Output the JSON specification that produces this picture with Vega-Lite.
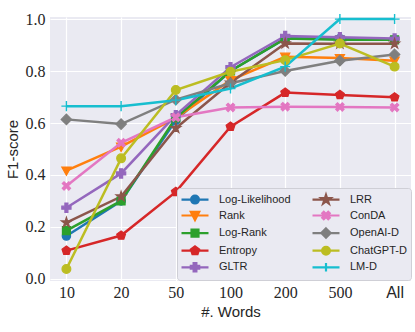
{
  "$schema": "https://vega.github.io/schema/vega-lite/v6.json",
  "width": 361,
  "height": 264,
  "autosize": "none",
  "padding": {"left": 50, "top": 17, "right": 4, "bottom": 51},
  "background": "white",
  "data": {"values": [
    {"m": "Log-Likelihood", "w": "10", "f": 0.165}, {"m": "Log-Likelihood", "w": "20", "f": 0.30}, {"m": "Log-Likelihood", "w": "50", "f": 0.61}, {"m": "Log-Likelihood", "w": "100", "f": 0.80}, {"m": "Log-Likelihood", "w": "200", "f": 0.925}, {"m": "Log-Likelihood", "w": "500", "f": 0.925}, {"m": "Log-Likelihood", "w": "All", "f": 0.92},
    {"m": "Rank", "w": "10", "f": 0.417}, {"m": "Rank", "w": "20", "f": 0.509}, {"m": "Rank", "w": "50", "f": 0.62}, {"m": "Rank", "w": "100", "f": 0.765}, {"m": "Rank", "w": "200", "f": 0.855}, {"m": "Rank", "w": "500", "f": 0.85}, {"m": "Rank", "w": "All", "f": 0.84},
    {"m": "Log-Rank", "w": "10", "f": 0.186}, {"m": "Log-Rank", "w": "20", "f": 0.30}, {"m": "Log-Rank", "w": "50", "f": 0.62}, {"m": "Log-Rank", "w": "100", "f": 0.80}, {"m": "Log-Rank", "w": "200", "f": 0.925}, {"m": "Log-Rank", "w": "500", "f": 0.92}, {"m": "Log-Rank", "w": "All", "f": 0.92},
    {"m": "Entropy", "w": "10", "f": 0.109}, {"m": "Entropy", "w": "20", "f": 0.167}, {"m": "Entropy", "w": "50", "f": 0.335}, {"m": "Entropy", "w": "100", "f": 0.586}, {"m": "Entropy", "w": "200", "f": 0.717}, {"m": "Entropy", "w": "500", "f": 0.708}, {"m": "Entropy", "w": "All", "f": 0.699},
    {"m": "GLTR", "w": "10", "f": 0.274}, {"m": "GLTR", "w": "20", "f": 0.406}, {"m": "GLTR", "w": "50", "f": 0.63}, {"m": "GLTR", "w": "100", "f": 0.815}, {"m": "GLTR", "w": "200", "f": 0.935}, {"m": "GLTR", "w": "500", "f": 0.93}, {"m": "GLTR", "w": "All", "f": 0.925},
    {"m": "LRR", "w": "10", "f": 0.217}, {"m": "LRR", "w": "20", "f": 0.317}, {"m": "LRR", "w": "50", "f": 0.58}, {"m": "LRR", "w": "100", "f": 0.755}, {"m": "LRR", "w": "200", "f": 0.906}, {"m": "LRR", "w": "500", "f": 0.905}, {"m": "LRR", "w": "All", "f": 0.905},
    {"m": "ConDA", "w": "10", "f": 0.358}, {"m": "ConDA", "w": "20", "f": 0.524}, {"m": "ConDA", "w": "50", "f": 0.622}, {"m": "ConDA", "w": "100", "f": 0.66}, {"m": "ConDA", "w": "200", "f": 0.663}, {"m": "ConDA", "w": "500", "f": 0.662}, {"m": "ConDA", "w": "All", "f": 0.66},
    {"m": "OpenAI-D", "w": "10", "f": 0.614}, {"m": "OpenAI-D", "w": "20", "f": 0.596}, {"m": "OpenAI-D", "w": "50", "f": 0.69}, {"m": "OpenAI-D", "w": "100", "f": 0.753}, {"m": "OpenAI-D", "w": "200", "f": 0.80}, {"m": "OpenAI-D", "w": "500", "f": 0.84}, {"m": "OpenAI-D", "w": "All", "f": 0.864},
    {"m": "ChatGPT-D", "w": "10", "f": 0.038}, {"m": "ChatGPT-D", "w": "20", "f": 0.464}, {"m": "ChatGPT-D", "w": "50", "f": 0.727}, {"m": "ChatGPT-D", "w": "100", "f": 0.797}, {"m": "ChatGPT-D", "w": "200", "f": 0.842}, {"m": "ChatGPT-D", "w": "500", "f": 0.906}, {"m": "ChatGPT-D", "w": "All", "f": 0.817},
    {"m": "LM-D", "w": "10", "f": 0.665}, {"m": "LM-D", "w": "20", "f": 0.665}, {"m": "LM-D", "w": "50", "f": 0.688}, {"m": "LM-D", "w": "100", "f": 0.733}, {"m": "LM-D", "w": "200", "f": 0.817}, {"m": "LM-D", "w": "500", "f": 1.0}, {"m": "LM-D", "w": "All", "f": 1.0}
  ]},
  "encoding": {
    "x": {"field": "w", "type": "ordinal", "sort": null,
      "scale": {"type": "point", "domain": ["10", "20", "50", "100", "200", "500", "All"], "padding": 0.3},
      "axis": {"title": "#. Words", "labelAngle": 0, "labelPadding": 3, "titlePadding": 4,
        "labelFont": {"condition": {"test": "datum.value === 'All'", "value": "Liberation Sans"}, "value": "Liberation Serif"},
        "labelFontSize": 16, "titleFont": "Liberation Sans", "titleFontSize": 15, "titleFontWeight": "normal"}},
    "y": {"field": "f", "type": "quantitative",
      "scale": {"domain": [-0.008, 1.008], "nice": false, "zero": false},
      "axis": {"title": "F1-score", "values": [0, 0.2, 0.4, 0.6, 0.8, 1.0], "format": ".1f", "labelPadding": 5, "titlePadding": 5,
        "labelFont": "Liberation Serif", "labelFontSize": 16, "titleFont": "Liberation Sans", "titleFontSize": 15, "titleFontWeight": "normal"}},
    "color": {"field": "m", "type": "nominal",
      "scale": {"domain": ["Log-Likelihood", "Rank", "Log-Rank", "Entropy", "GLTR", "LRR", "ConDA", "OpenAI-D", "ChatGPT-D", "LM-D"],
        "range": ["#1f77b4", "#ff7f0e", "#2ca02c", "#d62728", "#9467bd", "#8c564b", "#e377c2", "#7f7f7f", "#bcbd22", "#17becf"]},
      "legend": {"orient": "none", "legendX": 127, "legendY": 171, "columns": 2, "title": null,
        "symbolSize": 144, "symbolStrokeWidth": 2.2, "symbolOpacity": 1, "labelFont": "Liberation Sans", "labelFontSize": 11, "labelColor": "#262626",
        "fillColor": "#eaeaf2", "strokeColor": "#cfcfd6", "cornerRadius": 3, "padding": 4,
        "rowPadding": -1.4, "columnPadding": 17, "symbolOffset": 6.5, "labelOffset": 16.5}
    }
  },
  "layer": [
    {"mark": {"type": "line", "strokeWidth": 2.5, "opacity": 1}},
    {"transform": [{"filter": "false"}],
      "mark": {"type": "point", "filled": true, "opacity": 1},
      "encoding": {
        "shape": {"field": "m", "type": "nominal",
          "scale": {"domain": ["Log-Likelihood", "Rank", "Log-Rank", "Entropy", "GLTR", "LRR", "ConDA", "OpenAI-D", "ChatGPT-D", "LM-D"],
            "range": [
              "M-2.25,0H2.25M-0.65,0A0.65,0.65 0 1,0 0.65,0A0.65,0.65 0 1,0 -0.65,0Z",
              "M-2.25,0H2.25M-0.7,-0.6H0.7L0,0.75Z",
              "M-2.25,0H2.25M-0.58,-0.58H0.58V0.58H-0.58Z",
              "M-2.25,0H2.25M0,-0.72L0.685,-0.222L0.423,0.582L-0.423,0.582L-0.685,-0.222Z",
              "M-2.25,0H2.25M-0.23,-0.7H0.23V-0.23H0.7V0.23H0.23V0.7H-0.23V0.23H-0.7V-0.23H-0.23Z",
              "M-2.25,0H2.25M0,-0.8L0.179,-0.246L0.761,-0.247L0.289,0.094L0.47,0.647L0,0.304L-0.47,0.647L-0.289,0.094L-0.761,-0.247L-0.179,-0.246Z",
              "M-2.25,0H2.25M0,-0.248L0.371,-0.619L0.619,-0.371L0.248,0L0.619,0.371L0.371,0.619L0,0.248L-0.371,0.619L-0.619,0.371L-0.248,0L-0.619,-0.371L-0.371,-0.619Z",
              "M-2.25,0H2.25M0,-0.78L0.78,0L0,0.78L-0.78,0Z",
              "M-2.25,0H2.25M-0.65,0A0.65,0.65 0 1,0 0.65,0A0.65,0.65 0 1,0 -0.65,0Z",
              "M-2.25,0H2.25M0,-0.7V0.7"
            ]},
          "legend": {"orient": "none", "legendX": 127, "legendY": 171, "columns": 2, "title": null,
            "symbolSize": 144, "symbolStrokeWidth": 2.2, "symbolOpacity": 1, "labelFont": "Liberation Sans", "labelFontSize": 11, "labelColor": "#262626",
            "fillColor": "#eaeaf2", "strokeColor": "#cfcfd6", "cornerRadius": 3, "padding": 4,
            "rowPadding": -1.4, "columnPadding": 17, "symbolOffset": 6.5, "labelOffset": 16.5}}
      }},
    {"transform": [{"filter": {"field": "m", "equal": "Log-Likelihood"}}],
      "mark": {"type": "point", "filled": true, "opacity": 1, "size": 70, "strokeWidth": 1.2, "stroke": "#1f77b4", "shape": "M-1,0A1,1 0 1,0 1,0A1,1 0 1,0 -1,0Z"}},
    {"transform": [{"filter": {"field": "m", "equal": "Rank"}}],
      "mark": {"type": "point", "filled": true, "opacity": 1, "size": 70, "strokeWidth": 1.2, "stroke": "#ff7f0e", "shape": "M-1.1,-0.85H1.1L0,1.15Z"}},
    {"transform": [{"filter": {"field": "m", "equal": "Log-Rank"}}],
      "mark": {"type": "point", "filled": true, "opacity": 1, "size": 70, "strokeWidth": 1.2, "stroke": "#2ca02c", "shape": "M-0.95,-0.95H0.95V0.95H-0.95Z"}},
    {"transform": [{"filter": {"field": "m", "equal": "Entropy"}}],
      "mark": {"type": "point", "filled": true, "opacity": 1, "size": 70, "strokeWidth": 1.2, "stroke": "#d62728", "shape": "M0,-1.1L1.046,-0.34L0.647,0.89L-0.647,0.89L-1.046,-0.34Z"}},
    {"transform": [{"filter": {"field": "m", "equal": "GLTR"}}],
      "mark": {"type": "point", "filled": true, "opacity": 1, "size": 70, "strokeWidth": 1.2, "stroke": "#9467bd", "shape": "M-0.36,-1.1H0.36V-0.36H1.1V0.36H0.36V1.1H-0.36V0.36H-1.1V-0.36H-0.36Z"}},
    {"transform": [{"filter": {"field": "m", "equal": "LRR"}}],
      "mark": {"type": "point", "filled": true, "opacity": 1, "size": 70, "strokeWidth": 1.2, "stroke": "#8c564b", "shape": "M0,-1.25L0.279,-0.384L1.189,-0.386L0.452,0.147L0.735,1.011L0,0.475L-0.735,1.011L-0.452,0.147L-1.189,-0.386L-0.279,-0.384Z"}},
    {"transform": [{"filter": {"field": "m", "equal": "ConDA"}}],
      "mark": {"type": "point", "filled": true, "opacity": 1, "size": 70, "strokeWidth": 1.2, "stroke": "#e377c2", "shape": "M0,-0.424L0.566,-0.99L0.99,-0.566L0.424,0L0.99,0.566L0.566,0.99L0,0.424L-0.566,0.99L-0.99,0.566L-0.424,0L-0.99,-0.566L-0.566,-0.99Z"}},
    {"transform": [{"filter": {"field": "m", "equal": "OpenAI-D"}}],
      "mark": {"type": "point", "filled": true, "opacity": 1, "size": 70, "strokeWidth": 1.2, "stroke": "#7f7f7f", "shape": "M0,-1.25L1.25,0L0,1.25L-1.25,0Z"}},
    {"transform": [{"filter": {"field": "m", "equal": "ChatGPT-D"}}],
      "mark": {"type": "point", "filled": true, "opacity": 1, "size": 70, "strokeWidth": 1.2, "stroke": "#bcbd22", "shape": "M-1.05,0A1.05,1.05 0 1,0 1.05,0A1.05,1.05 0 1,0 -1.05,0Z"}},
    {"transform": [{"filter": {"field": "m", "equal": "LM-D"}}],
      "mark": {"type": "point", "filled": true, "opacity": 1, "size": 70, "strokeWidth": 1.4, "stroke": "#17becf", "shape": "M-1.2,0H1.2M0,-1.2V1.2"}}
  ],
  "config": {
    "view": {"fill": "#eaeaf2", "stroke": null},
    "axis": {"domain": false, "ticks": false, "grid": true, "gridColor": "white", "gridWidth": 1.2,
      "labelColor": "#262626", "titleColor": "#262626"}
  }
}
